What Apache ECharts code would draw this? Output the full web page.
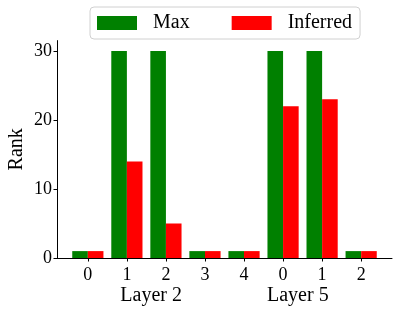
<!DOCTYPE html>
<html><head><meta charset="utf-8">
<script src="https://cdn.jsdelivr.net/npm/echarts@6/dist/echarts.min.js"></script>
<style>html,body{margin:0;padding:0;background:#fff}#c{width:401px;height:312px}</style>
</head><body><div id="c"></div>
<script>
const positions = [0, 1, 2, 3, 4, 5, 6, 7];
const tickLabels = ['0', '1', '2', '3', '4', '0', '1', '2'];
const maxValues = [1, 30, 30, 1, 1, 30, 30, 1];
const inferredValues = [1, 14, 5, 1, 1, 22, 23, 1];
const groupLabels = ['Layer 2', 'Layer 5'];

const font = 'Liberation Serif';
const chart = echarts.init(document.getElementById('c'), null, {renderer: 'canvas'});
chart.setOption({
  animation: false,
  textStyle: {fontFamily: font},
  legend: {
    top: 7, left: 90,
    itemWidth: 40, itemHeight: 14, itemGap: 42,
    padding: [6, 8, 6, 7],
    borderColor: '#d0d0d0', borderWidth: 1, borderRadius: 4,
    textStyle: {fontFamily: font, fontSize: 20, color: '#000', padding: [0, 0, 0, 11]},
    data: [{name: 'Max', icon: 'rect'}, {name: 'Inferred', icon: 'rect'}]
  },
  grid: {left: 57, right: 9, top: 40.6, bottom: 54, outerBoundsMode: 'none', containLabel: false},
  xAxis: {
    type: 'value', min: -0.79, max: 7.79,
    name: '{a|' + groupLabels[0] + '}{s|}{a|' + groupLabels[1] + '}',
    nameLocation: 'middle', nameGap: 28, nameMoveOverlap: false,
    nameTextStyle: {rich: {a: {fontFamily: font, fontSize: 20, color: '#000'}, s: {width: 85}}},
    axisLine: {show: true, onZero: false, lineStyle: {color: '#000', width: 1}},
    splitLine: {show: false},
    axisTick: {show: true, customValues: positions, length: 3.5, lineStyle: {color: '#000'}},
    axisLabel: {customValues: positions, formatter: v => tickLabels[Math.round(v)], fontFamily: font, fontSize: 18, color: '#000', margin: 8}
  },
  yAxis: {
    type: 'value', min: 0, max: 31.5, interval: 10,
    name: 'Rank', nameLocation: 'middle', nameRotate: 90, nameGap: 30, nameMoveOverlap: false,
    nameTextStyle: {fontFamily: font, fontSize: 20, color: '#000'},
    axisLine: {show: true, onZero: false, lineStyle: {color: '#000', width: 1}},
    splitLine: {show: false},
    axisTick: {show: true, length: 3.5, lineStyle: {color: '#000'}},
    axisLabel: {fontFamily: font, fontSize: 18, color: '#000', margin: 5, showMaxLabel: false,
      formatter: v => (v % 10 === 0 ? String(v) : '')}
  },
  series: [
    {name: 'Max', type: 'bar', barWidth: 15.6, barGap: '0%', itemStyle: {color: '#008000'},
     data: positions.map((p, i) => [p, maxValues[i]])},
    {name: 'Inferred', type: 'bar', barWidth: 15.6, barGap: '0%', itemStyle: {color: '#ff0000'},
     data: positions.map((p, i) => [p, inferredValues[i]])}
  ]
});
</script></body></html>
